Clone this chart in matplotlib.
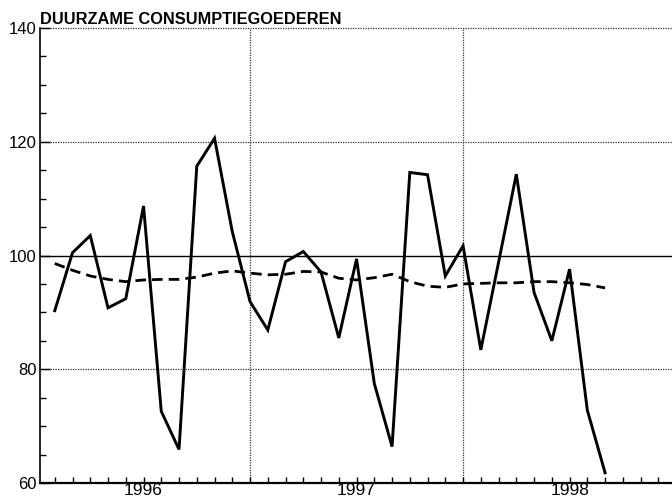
import matplotlib
matplotlib.use("Agg")
import matplotlib.pyplot as plt
from matplotlib.ticker import MultipleLocator, FixedLocator

plt.rcParams['font.family'] = ['Liberation Sans', 'DejaVu Sans']

title = "DUURZAME CONSUMPTIEGOEDEREN"
years = ["1996", "1997", "1998"]
# monthly observations (month index from start of 1996; first point = month 1)
months = list(range(1, 33))
actual = [90.3, 100.5, 103.5, 90.8, 92.4, 108.7, 72.6, 65.9, 115.7, 120.6,
          104.2, 91.9, 86.9, 98.9, 100.7, 97.1, 85.5, 99.4, 77.5, 66.4,
          114.6, 114.2, 96.4, 101.7, 83.4, 98.8, 114.3, 93.5, 85.0, 97.6,
          72.8, 61.8]
trend = [98.6, 97.4, 96.4, 95.8, 95.4, 95.7, 95.8, 95.8, 96.2, 96.9,
         97.3, 96.9, 96.6, 96.7, 97.2, 97.1, 96.0, 95.7, 96.1, 96.7,
         95.4, 94.6, 94.4, 95.0, 95.1, 95.2, 95.2, 95.4, 95.4, 95.2,
         94.9, 94.3]
reference_level = 100

W, H = 672, 503
fig = plt.figure(figsize=(W / 100, H / 100), dpi=100)
left_px, bottom_px, top_px = 39.5, 483, 28
ax = fig.add_axes([left_px / W, (H - bottom_px) / H, 1 - left_px / W,
                   (bottom_px - top_px) / H])

ax.set_xlim(0.14, 35.77)
ax.set_ylim(60, 140)

# grid lines
for yv in (80, 120, 140):
    ax.axhline(yv, color='#333333', lw=0.9, ls=(0, (1, 1)), clip_on=False, zorder=1)
for xv in (12, 24):
    ax.axvline(xv, color='#333333', lw=0.9, ls=(0, (1, 1)), zorder=1)
ax.axhline(reference_level, color='black', lw=1.0, zorder=2)

ax.plot(months, actual, color='black', lw=2.1, solid_joinstyle='miter', zorder=3)
ax.plot(months, trend, color='black', lw=2.0, ls=(0, (3.8, 2.2)), zorder=3)

for s in ('top', 'right'):
    ax.spines[s].set_visible(False)
ax.spines['left'].set_linewidth(1.2)
ax.spines['bottom'].set_linewidth(1.6)

ax.yaxis.set_major_locator(MultipleLocator(20))
ax.yaxis.set_minor_locator(MultipleLocator(5))
ax.tick_params(axis='y', which='major', direction='in', length=7, width=1.0,
               labelsize=12, pad=2)
ax.tick_params(axis='y', which='minor', direction='in', length=4, width=1.0)

ax.xaxis.remove_overlapping_locs = False
ax.xaxis.set_major_locator(FixedLocator(list(range(1, 36))))
ax.tick_params(axis='x', which='major', direction='in', length=4, width=1.0,
               labelbottom=False)
ax.set_xticks([6, 18, 30], years, minor=True)
ax.tick_params(axis='x', which='minor', length=0, labelsize=12.5, pad=0)

fig.text(40 / W, (H - 23.5) / H, title, fontsize=11.8, fontweight='bold',
         ha='left', va='baseline')

fig.savefig("out.png", dpi=100)
